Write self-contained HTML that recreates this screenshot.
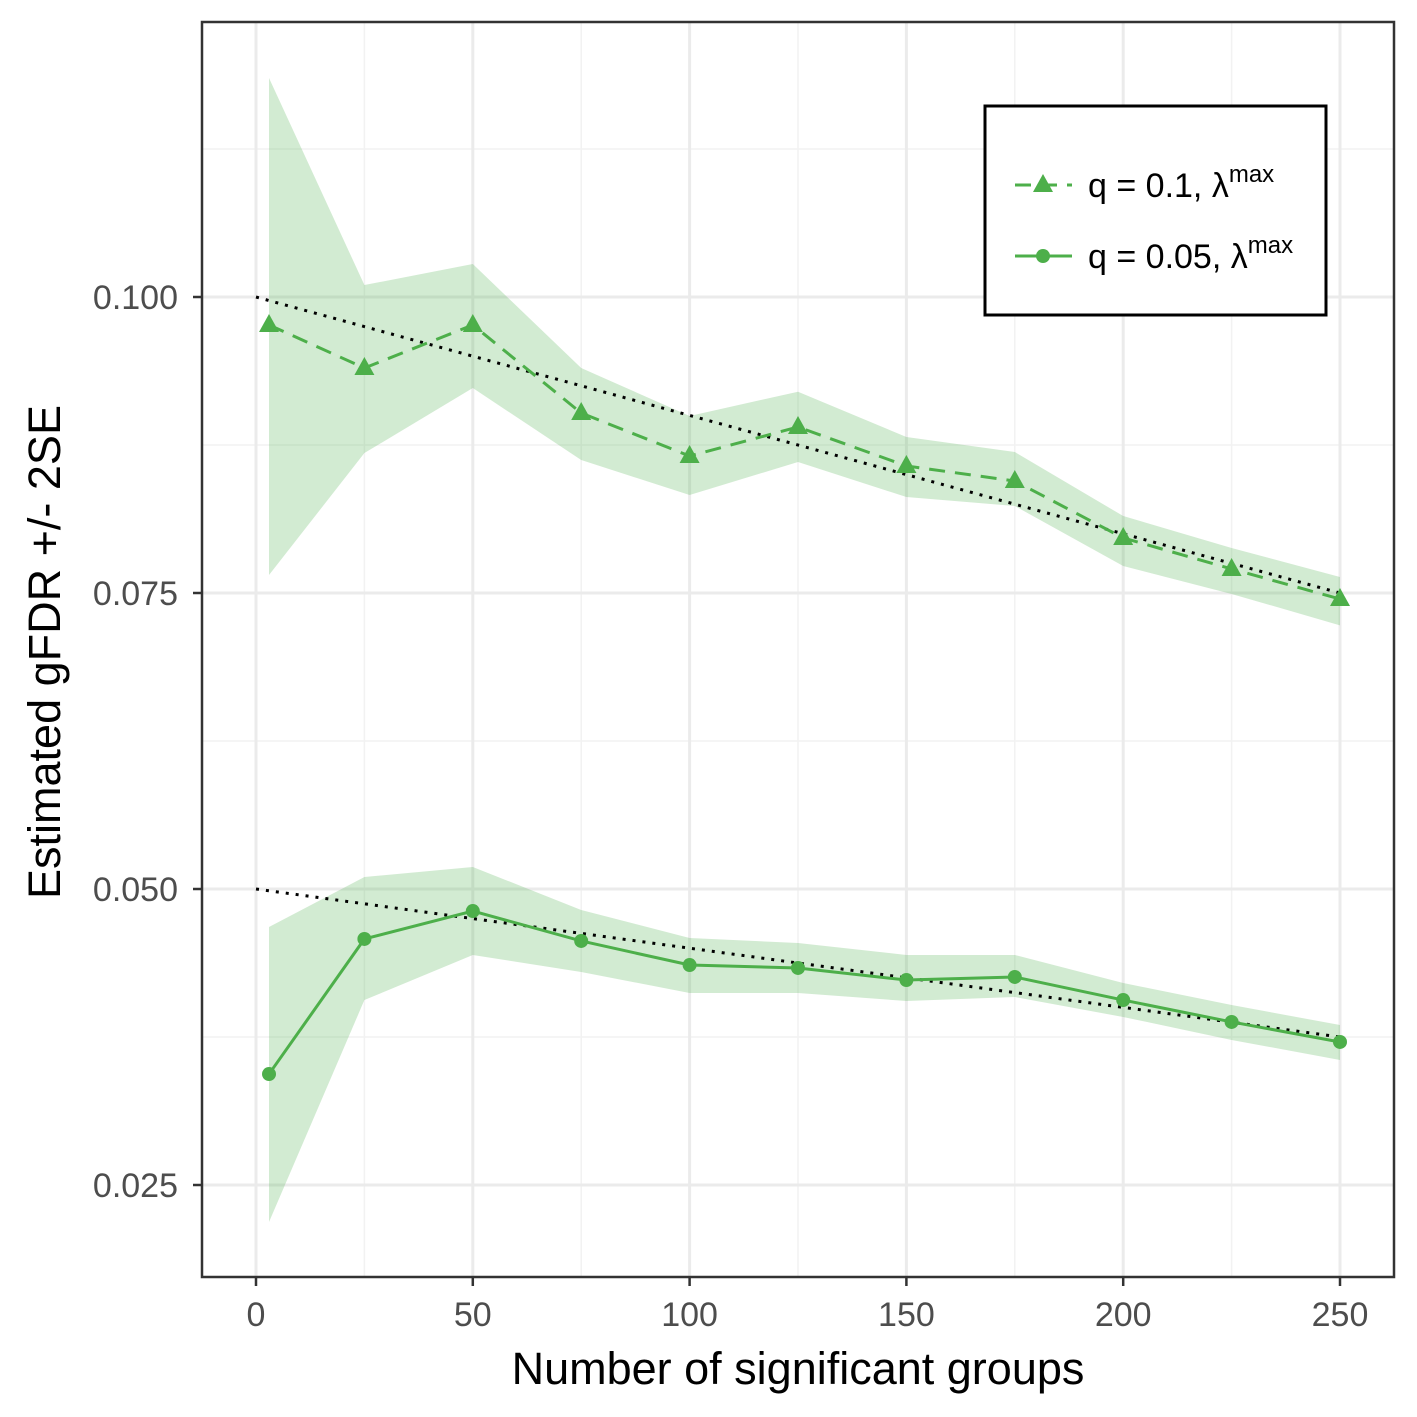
<!DOCTYPE html>
<html><head><meta charset="utf-8"><style>
body{margin:0;background:#fff}
svg{display:block;font-family:"Liberation Sans",Arial,sans-serif}
</style></head><body>
<svg id="chart" width="1417" height="1417" viewBox="0 0 1417 1417">
<rect width="1417" height="1417" fill="#fff"/>
<g id="grid"></g><g id="bands"></g><g id="refs"></g><g id="lines"></g><g id="axes"></g>
</svg>
<script>
const xs=[3,25,50,75,100,125,150,175,200,225,250];
const q1=[0.09764,0.0940,0.09764,0.0902,0.08657,0.08902,0.08573,0.08446,0.07965,0.07703,0.07449];
const q1Hi=[0.1185,0.10101,0.10279,0.0940,0.08995,0.0920,0.08818,0.08691,0.0815,0.0788,0.07635];
const q1Lo=[0.07652,0.08682,0.09231,0.08623,0.08328,0.08606,0.08311,0.08235,0.07728,0.07492,0.07227];
const q2=[0.03437,0.04578,0.04814,0.04561,0.04358,0.04333,0.04231,0.04257,0.04062,0.03877,0.03708];
const q2Hi=[0.04679,0.05101,0.05186,0.04823,0.04586,0.04544,0.04443,0.04443,0.04206,0.0402,0.03851];
const q2Lo=[0.02187,0.04062,0.04443,0.04299,0.04122,0.04122,0.04054,0.04088,0.03919,0.03725,0.03556];
const xTicks=[0,50,100,150,200,250];
const yTicks=[0.025,0.050,0.075,0.100];
const yTickLabels=["0.025","0.050","0.075","0.100"];
const refLine1=[[0,0.1],[250,0.075]];
const refLine2=[[0,0.05],[250,0.0375]];
const X=v=>256+v*(1340-256)/250;
const Y=v=>297+(0.1-v)*296/0.025;
const NS="http://www.w3.org/2000/svg";
function mk(p,t,a){const e=document.createElementNS(NS,t);for(const k in a)e.setAttribute(k,a[k]);p.appendChild(e);return e;}
const G=id=>document.getElementById(id);
const L=202,R=1394,T=22,B=1277,C="#4daf4a";
for(const v of [25,75,125,175,225]){const e=mk(G('grid'),'line',{x1:X(v),x2:X(v),y1:T,y2:B,stroke:'#f2f2f2','stroke-width':1.5});
}
for(const v of [0.0375,0.0625,0.0875,0.1125]){const e=mk(G('grid'),'line',{x1:L,x2:R,y1:Y(v),y2:Y(v),stroke:'#f2f2f2','stroke-width':1.5});
}
for(const v of xTicks){const e=mk(G('grid'),'line',{x1:X(v),x2:X(v),y1:T,y2:B,stroke:'#ebebeb','stroke-width':3});
}
for(const v of yTicks){const e=mk(G('grid'),'line',{x1:L,x2:R,y1:Y(v),y2:Y(v),stroke:'#ebebeb','stroke-width':3});
}
function band(hi,lo,name){const pts=xs.map((x,i)=>X(x)+','+Y(hi[i])).concat(xs.map((x,i)=>X(x)+','+Y(lo[i])).reverse());
const e=mk(G('bands'),'polygon',{points:pts.join(' '),fill:C,'fill-opacity':0.25});
}
band(q1Hi,q1Lo,'band-q01');band(q2Hi,q2Lo,'band-q005');
for(const [r,n] of [[refLine1,'target-line-q01'],[refLine2,'target-line-q005']]){
const e=mk(G('refs'),'line',{x1:X(r[0][0]),y1:Y(r[0][1]),x2:X(r[1][0]),y2:Y(r[1][1]),stroke:'#000','stroke-width':3,'stroke-dasharray':'3,7'});
}
const l1=mk(G('lines'),'polyline',{points:xs.map((x,i)=>X(x)+','+Y(q1[i])).join(' '),fill:'none',stroke:C,'stroke-width':3,'stroke-dasharray':'16,10'});

const l2=mk(G('lines'),'polyline',{points:xs.map((x,i)=>X(x)+','+Y(q2[i])).join(' '),fill:'none',stroke:C,'stroke-width':3});

function tri(p,cx,cy){return mk(p,'polygon',{points:`${cx},${cy-11} ${cx-10},${cy+7} ${cx+10},${cy+7}`,fill:C});}
xs.forEach((x,i)=>{const t=tri(G('lines'),X(x),Y(q1[i]));

const c=mk(G('lines'),'circle',{cx:X(x),cy:Y(q2[i]),r:7,fill:C});
});
const A=G('axes');
const fr=mk(A,'rect',{x:L,y:T,width:R-L,height:B-T,fill:'none',stroke:'#333','stroke-width':2.5});

for(const v of xTicks){mk(A,'line',{x1:X(v),x2:X(v),y1:B,y2:B+9,stroke:'#333','stroke-width':2.5});
const t=mk(A,'text',{x:X(v),y:B+49,'font-size':34,fill:'#4d4d4d','text-anchor':'middle'});t.textContent=v;
}
yTicks.forEach((v,i)=>{mk(A,'line',{x1:L-9,x2:L,y1:Y(v),y2:Y(v),stroke:'#333','stroke-width':2.5});
const t=mk(A,'text',{x:L-24,y:Y(v)+12,'font-size':34,fill:'#4d4d4d','text-anchor':'end'});t.textContent=yTickLabels[i];
});
const xt=mk(A,'text',{x:798,y:1384,'font-size':45,fill:'#000','text-anchor':'middle'});xt.textContent='Number of significant groups';

const yt=mk(A,'text',{x:0,y:0,'font-size':45,fill:'#000','text-anchor':'middle',transform:'translate(60,652) rotate(-90)'});yt.textContent='Estimated gFDR +/- 2SE';

const lg=mk(A,'g',{});
mk(lg,'rect',{x:985,y:106,width:341,height:209,fill:'#fff',stroke:'#000','stroke-width':3});
const e1=mk(lg,'g',{});
mk(e1,'line',{x1:1015,x2:1072,y1:185,y2:185,stroke:C,'stroke-width':3,'stroke-dasharray':'16,10'});tri(e1,1043,185);
const t1=mk(e1,'text',{x:1088,y:197,'font-size':34});t1.innerHTML='q = 0.1, λ<tspan dy="-15" font-size="24">max</tspan>';
const e2=mk(lg,'g',{});
mk(e2,'line',{x1:1015,x2:1072,y1:256,y2:256,stroke:C,'stroke-width':3});mk(e2,'circle',{cx:1043,cy:256,r:7,fill:C});
const t2=mk(e2,'text',{x:1088,y:268,'font-size':34});t2.innerHTML='q = 0.05, λ<tspan dy="-15" font-size="24">max</tspan>';
</script>
</body></html>
